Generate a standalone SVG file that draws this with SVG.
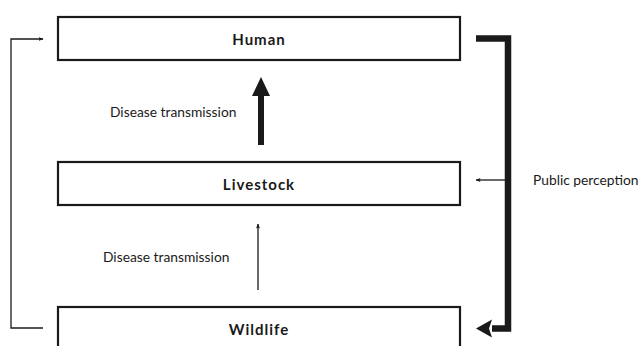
<svg xmlns="http://www.w3.org/2000/svg" width="641" height="346" viewBox="0 0 641 346">
<style>
.box{fill:#fff;stroke:#1a1a1a;stroke-width:2.2}
.lbl{font-family:Lato,"Open Sans",sans-serif;font-size:15px;font-weight:bold;fill:#1a1a1a;text-anchor:middle;letter-spacing:1px}
.txt{font-family:Lato,"Open Sans",sans-serif;font-size:13.8px;fill:#1a1a1a}
.thin{fill:none;stroke:#1a1a1a;stroke-width:1.3}
.thick{fill:none;stroke:#1a1a1a;stroke-width:6.5}
</style>
<defs>
<marker id="sa" viewBox="0 0 10 10" refX="9" refY="5" markerWidth="5" markerHeight="5" orient="auto" markerUnits="userSpaceOnUse"><path d="M0,1 L10,5 L0,9 L2,5 Z" fill="#1a1a1a"/></marker>
</defs>
<g id="human"><rect class="box" x="58" y="17" width="402" height="43"/><text class="lbl" x="259" y="45">Human</text></g>
<g id="livestock"><rect class="box" x="58" y="162" width="402" height="43"/><text class="lbl" x="259" y="190">Livestock</text></g>
<g id="wildlife"><rect class="box" x="58" y="307" width="402" height="50"/><text class="lbl" x="259" y="335">Wildlife</text></g>
<g id="connectors">
<line x1="261" y1="145" x2="261" y2="92" stroke="#1a1a1a" stroke-width="6"/>
<path d="M261,77 L270,96 L252,96 Z" fill="#1a1a1a"/>
<line class="thin" x1="258" y1="290" x2="258" y2="224" marker-end="url(#sa)"/>
<polyline class="thin" points="43,328 11,328 11,39 43,39" marker-end="url(#sa)"/>
<polyline class="thick" points="476,38.5 508,38.5 508,328.5 492,328.5"/>
<path d="M476,328.5 L492,319.5 L489,328.5 L492,337.5 Z" fill="#1a1a1a"/>
<line class="thin" x1="505" y1="180" x2="476" y2="180" marker-end="url(#sa)"/>
</g>
<text class="txt" x="110" y="117">Disease transmission</text>
<text class="txt" x="103" y="262">Disease transmission</text>
<text class="txt" x="533" y="185">Public perception</text>
</svg>
